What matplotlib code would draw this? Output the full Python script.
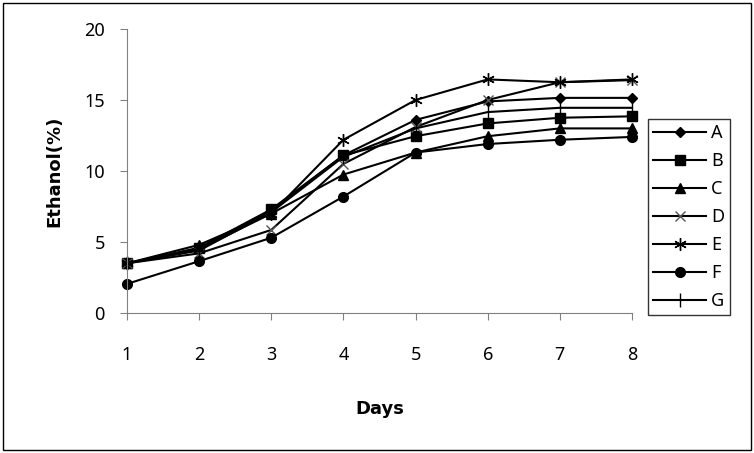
import matplotlib.pyplot as plt
from matplotlib.patches import Rectangle

plt.rcParams["font.family"] = ["Noto Sans", "DejaVu Sans"]

# Data
days = [1, 2, 3, 4, 5, 6, 7, 8]
series_names = ["A", "B", "C", "D", "E", "F", "G"]
a_vals = [3.5, 4.5, 7.2, 11.1, 13.6, 14.9, 15.15, 15.15]
b_vals = [3.5, 4.6, 7.3, 11.1, 12.45, 13.35, 13.75, 13.85]
c_vals = [3.5, 4.8, 7.0, 9.75, 11.3, 12.45, 13.0, 13.0]
d_vals = [3.5, 4.2, 5.85, 10.5, 13.1, 15.0, 16.25, 16.4]
e_vals = [3.5, 4.5, 7.0, 12.2, 15.0, 16.45, 16.25, 16.45]
f_vals = [2.05, 3.65, 5.3, 8.2, 11.3, 11.9, 12.2, 12.4]
g_vals = [3.5, 4.4, 7.1, 11.0, 13.0, 14.15, 14.45, 14.45]

fig = plt.figure(figsize=(7.54, 4.53), dpi=100)
fig.patches.append(Rectangle((0.004, 0.006), 0.992, 0.988, transform=fig.transFigure,
                             fill=False, edgecolor="black", linewidth=1))
ax = fig.add_axes([127 / 754, 1 - 313 / 453, 505 / 754, 284 / 453])

styles = [
    dict(marker="D", markersize=5),
    dict(marker="s", markersize=7.5),
    dict(marker="^", markersize=7),
    dict(marker="x", markersize=6.5, markeredgewidth=1, markeredgecolor="#555555"),
    dict(marker=(6, 2, 0), markersize=9, markeredgewidth=1),
    dict(marker="o", markersize=7),
    dict(marker="|", markersize=10, markeredgewidth=1),
]
for name, vals, st in zip(series_names,
                          [a_vals, b_vals, c_vals, d_vals, e_vals, f_vals, g_vals], styles):
    ax.plot(days, vals, color="black", linewidth=1.5, label=name, clip_on=False, **st)

ax.set_xlim(1, 8)
ax.set_ylim(0, 20)
ax.set_xticks(days)
ax.set_yticks([0, 5, 10, 15, 20])
ax.spines["top"].set_visible(False)
ax.spines["right"].set_visible(False)
for s in ["left", "bottom"]:
    ax.spines[s].set_color("#808080")
ax.tick_params(colors="#808080", labelcolor="black", labelsize=13, length=5)
ax.tick_params(axis="x", pad=19)
ax.tick_params(axis="y", pad=11)
ax.set_xlabel("Days", fontsize=13, fontweight="bold", family="DejaVu Sans", labelpad=26)
ax.set_ylabel("Ethanol(%)", fontsize=13, fontweight="bold", family="DejaVu Sans", labelpad=15)

leg = fig.legend(loc="upper left", bbox_to_anchor=(648 / 754, 1 - 119 / 453),
                 frameon=True, fancybox=False, fontsize=13, handlelength=2.9,
                 labelspacing=0.55, borderpad=0.3, handletextpad=0.3,
                 borderaxespad=0)
leg.get_frame().set_edgecolor("black")
leg.get_frame().set_linewidth(1)

plt.savefig("out.png", dpi=100)
